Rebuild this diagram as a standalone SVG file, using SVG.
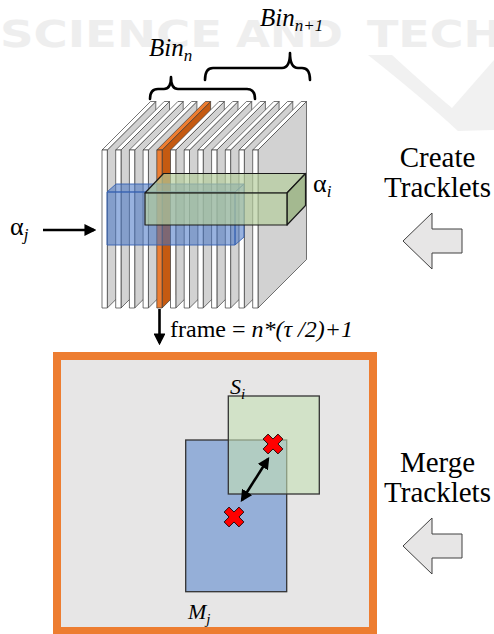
<svg xmlns="http://www.w3.org/2000/svg" width="494" height="634" viewBox="0 0 494 634">
  <defs>
    <style>
      .serif { font-family: "Liberation Serif", "Times New Roman", serif; fill: #000; }
      .it { font-style: italic; }
      .wm { font-family: "DejaVu Sans", sans-serif; font-weight: bold; fill: #eeeeee; }
      .slab-side { fill: #d2d2d2; stroke: #3a3a3a; stroke-width: 0.7; stroke-linejoin: round; }
      .slab-face { fill: #ffffff; stroke: #3a3a3a; stroke-width: 0.7; stroke-linejoin: round; }
      .hl-side { fill: #c55a11; stroke: #3a3a3a; stroke-width: 0.7; stroke-linejoin: round; }
      .hl-face { fill: #ed7d31; stroke: #3a3a3a; stroke-width: 0.7; stroke-linejoin: round; }
      .blue3d { fill: #4472c4; fill-opacity: 0.55; stroke: #3560b0; stroke-width: 0.9; stroke-linejoin: round; }
      .green3d { fill: #b4cd9b; fill-opacity: 0.68; stroke: #1a1a1a; stroke-width: 1.2; stroke-linejoin: round; }
      .green3d-side { fill: #98b37f; fill-opacity: 0.8; stroke: #1a1a1a; stroke-width: 1.2; stroke-linejoin: round; }
      .brace { fill: none; stroke: #000; stroke-width: 2.6; stroke-linecap: round; stroke-linejoin: round; }
      .arrow { fill: none; stroke: #000; stroke-width: 2.6; }
      .block-arrow { fill: #e7e6e6; stroke: #404040; stroke-width: 1; stroke-linejoin: miter; }
      .cross { fill: #ff0000; stroke: #000; stroke-width: 0.8; stroke-linejoin: miter; }
      .step { font-size: 29px; text-anchor: middle; }
    </style>
    <!-- one thin frame slab: right side face, top face, front face -->
    <g id="slab">
      <polygon class="slab-side" points="5.3,150 53.8,101.5 53.8,259.5 5.3,308"/>
      <polygon class="slab-face" points="0,150 5.3,150 53.8,101.5 48.5,101.5"/>
      <rect class="slab-face" x="0" y="150" width="5.3" height="158"/>
    </g>
    <g id="slab-hl">
      <polygon class="hl-side" points="5.3,150 53.8,101.5 53.8,259.5 5.3,308"/>
      <polygon class="hl-face" points="0,150 5.3,150 53.8,101.5 48.5,101.5"/>
      <rect class="hl-face" x="0" y="150" width="5.3" height="158"/>
    </g>
    <marker id="head" viewBox="0 0 10 10" refX="8" refY="5" markerWidth="4.6" markerHeight="4.6" orient="auto-start-reverse">
      <path d="M0,0 L10,5 L0,10 Z" fill="#000"/>
    </marker>
    <!-- red cross marker for box centres -->
    <polygon id="xmark" class="cross" points="-3.5,-10.5 3.5,-10.5 3.5,-3.5 10.5,-3.5 10.5,3.5 3.5,3.5 3.5,10.5 -3.5,10.5 -3.5,3.5 -10.5,3.5 -10.5,-3.5 -3.5,-3.5" transform="rotate(45)"/>
  </defs>

  <rect width="494" height="634" fill="#ffffff"/>

  <!-- faint publisher watermark -->
  <g id="watermark">
    <path d="M368,55 L392,55 Q428,88 452,108 L494,60 L494,130 L458,131 Q420,96 368,55 Z" fill="#f1f1f1"/>
    <text class="wm" x="0" y="47" font-size="37" textLength="222" lengthAdjust="spacingAndGlyphs">SCIENCE</text>
    <text class="wm" x="236" y="47" font-size="37" textLength="107" lengthAdjust="spacingAndGlyphs">AND</text>
    <text class="wm" x="367" y="47" font-size="37" textLength="135" lengthAdjust="spacingAndGlyphs">TECH</text>
  </g>

  <!-- stack of frames -->
  <g id="frame-stack">
    <use href="#slab" x="102"/>
    <use href="#slab" x="115.7"/>
    <use href="#slab" x="129.4"/>
    <use href="#slab" x="143.1"/>
    <use href="#slab-hl" x="156.8"/>
    <use href="#slab" x="170.5"/>
    <use href="#slab" x="184.2"/>
    <use href="#slab" x="197.9"/>
    <use href="#slab" x="211.6"/>
    <use href="#slab" x="225.3"/>
    <use href="#slab" x="239"/>
    <use href="#slab" x="252.7"/>
  </g>

  <!-- tracklet volume alpha_j -->
  <g id="alpha-j-box">
    <polygon class="blue3d" points="107,192 235,192 244,184 116,184"/>
    <polygon class="blue3d" points="235,192 244,184 244,237 235,245"/>
    <rect class="blue3d" x="107" y="192" width="128" height="53"/>
  </g>

  <!-- tracklet volume alpha_i -->
  <g id="alpha-i-box">
    <polygon class="green3d" points="145,193 287,193 305.5,173.5 163.5,173.5"/>
    <polygon class="green3d-side" points="287,193 305.5,173.5 305.5,205.5 287,225"/>
    <rect class="green3d" x="145" y="193" width="142" height="32"/>
  </g>

  <!-- bin braces -->
  <g id="bin-n">
    <path class="brace" d="M150,99 Q150,89 158,89 L164,89 Q171,89 171,77 Q171,89 178,89 L247,89 Q255,89 255,99"/>
    <text class="serif it" x="149" y="56" font-size="25">Bin<tspan font-size="17" dy="5">n</tspan></text>
  </g>
  <g id="bin-n1">
    <path class="brace" d="M205,80 Q205,68 213,68 L282,68 Q290,68 290,53 Q290,68 298,68 L302,68 Q310,68 310,80"/>
    <text class="serif it" x="260" y="26" font-size="25">Bin<tspan font-size="17" dy="5">n+1</tspan></text>
  </g>

  <g id="alpha-labels">
    <text class="serif" x="313" y="192" font-size="26">α<tspan class="it" font-size="17" dy="5">i</tspan></text>
    <text class="serif" x="10" y="235" font-size="26">α<tspan class="it" font-size="17" dy="5">j</tspan></text>
  </g>

  <text id="frame-label" class="serif" x="170" y="337" font-size="24">frame = <tspan class="it">n*(τ /2)+1</tspan></text>

  <!-- selected frame -->
  <g id="frame-view">
    <rect x="57" y="356" width="316" height="275" fill="#e7e6e6" stroke="#ed7d31" stroke-width="8"/>
    <rect id="box-m" x="185.7" y="440" width="101" height="151.7" fill="#95afd8" stroke="#333" stroke-width="1.3"/>
    <rect id="box-s" x="228.3" y="396" width="91" height="98" fill="#c5e0b4" fill-opacity="0.6" stroke="#333" stroke-width="1.3"/>
    <use href="#xmark" x="273" y="444"/>
    <use href="#xmark" x="234" y="517"/>
    <text class="serif it" x="230" y="394" font-size="22">S<tspan font-size="15" dy="5">i</tspan></text>
    <text class="serif it" x="188" y="619" font-size="22">M<tspan font-size="15" dy="5">j</tspan></text>
  </g>

  <!-- process steps -->
  <g id="step-create">
    <text class="serif step" x="437.5" y="167">Create</text>
    <text class="serif step" x="437.5" y="197">Tracklets</text>
    <polygon class="block-arrow" points="403,241 432,213 432,229 462,229 462,253 432,253 432,269"/>
  </g>
  <g id="step-merge">
    <text class="serif step" x="437.5" y="472">Merge</text>
    <text class="serif step" x="437.5" y="502">Tracklets</text>
    <polygon class="block-arrow" points="403,546 432,518 432,534 462,534 462,558 432,558 432,574"/>
  </g>

  <!-- connectors -->
  <g id="connectors">
    <line class="arrow" x1="43" y1="230" x2="94" y2="230" marker-end="url(#head)"/>
    <line class="arrow" x1="159.5" y1="309" x2="159.5" y2="343" marker-end="url(#head)"/>
    <line class="arrow" x1="268" y1="459" x2="242" y2="500" marker-start="url(#head)" marker-end="url(#head)"/>
  </g>
</svg>
